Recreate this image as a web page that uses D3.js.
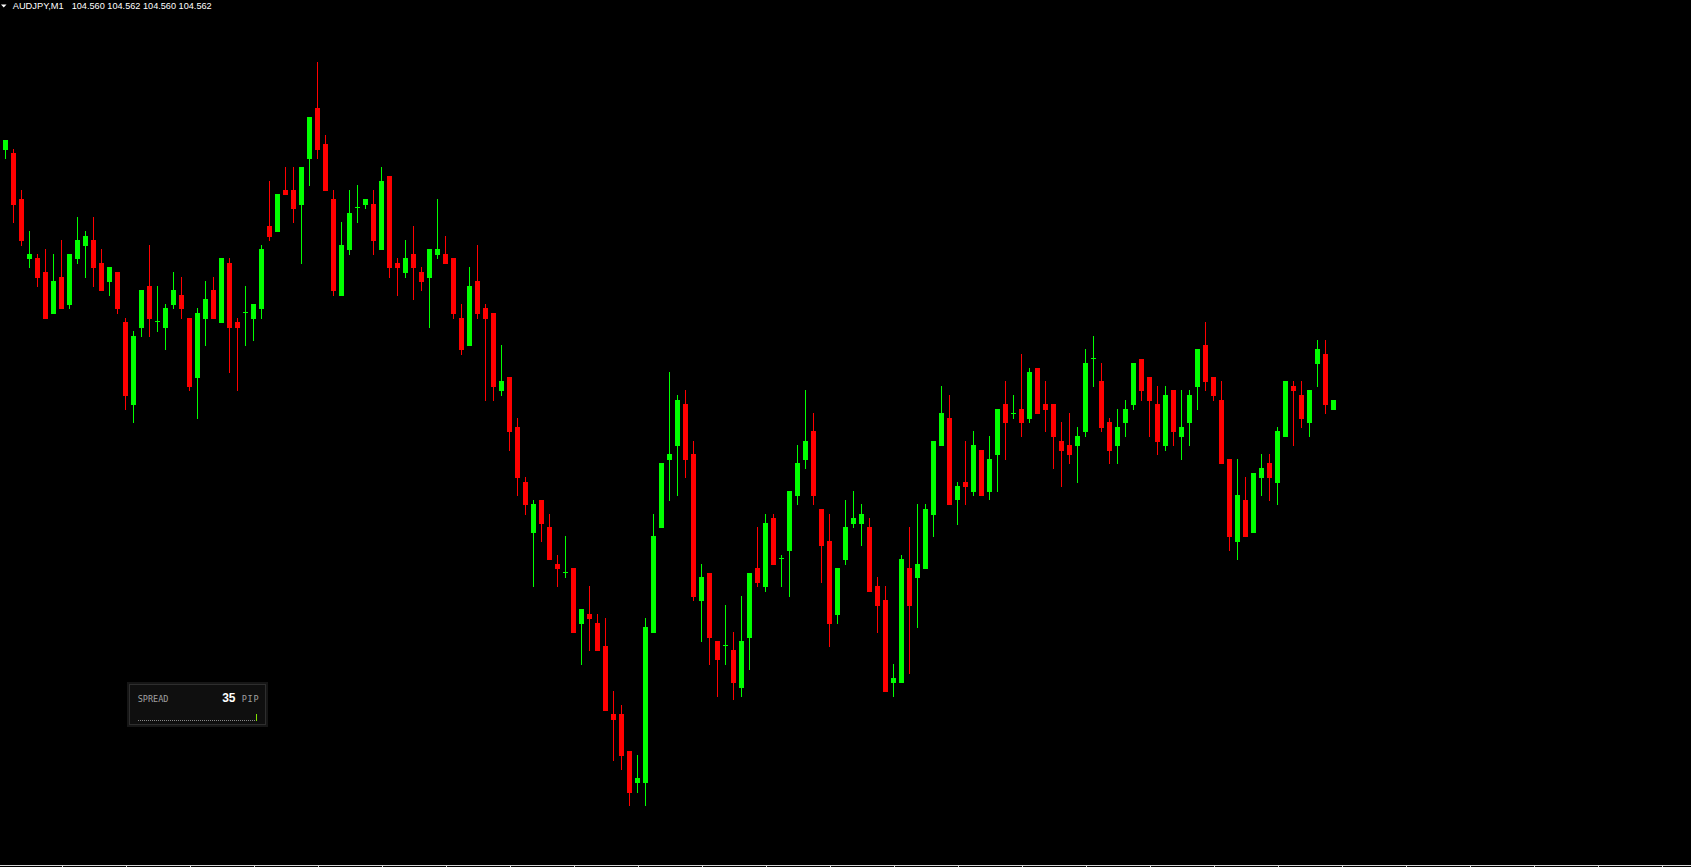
<!DOCTYPE html>
<html>
<head>
<meta charset="utf-8">
<script src="https://cdn.jsdelivr.net/npm/d3@7/dist/d3.min.js"></script>
<style>
  html, body { margin: 0; padding: 0; background: #000; overflow: hidden; }
  svg { display: block; }
</style>
</head>
<body>
<svg id="chart" width="1691" height="867"></svg>
<script>
// AUDJPY M1 candles (oldest -> newest)
const symbolLabel = 'AUDJPY,M1';
const lastQuote = '104.560 104.562 104.560 104.562';
const spreadValue = 35;

const opens = [
  104.812,104.809,104.763,104.703,104.704,104.690,104.648,104.685,104.657,104.703,
  104.716,104.722,104.699,104.680,104.690,104.640,104.557,104.634,104.676,104.640,
  104.634,104.657,104.667,104.644,104.584,104.643,104.672,104.639,104.699,104.640,
  104.649,104.643,104.653,104.736,104.730,104.772,104.772,104.757,104.803,104.854,
  104.818,104.763,104.666,104.712,104.754,104.757,104.758,104.712,104.786,104.699,
  104.689,104.708,104.690,104.684,104.707,104.708,104.704,104.644,104.616,104.681,
  104.654,104.649,104.571,104.585,104.535,104.480,104.429,104.462,104.435,104.398,
  104.389,104.394,104.338,104.348,104.339,104.316,104.248,104.248,104.211,104.179,
  104.179,104.329,104.434,104.502,104.516,104.558,104.508,104.361,104.389,104.321,
  104.316,104.312,104.274,104.324,104.394,104.375,104.444,104.403,104.411,104.466,
  104.502,104.531,104.453,104.421,104.347,104.402,104.438,104.438,104.435,104.376,
  104.362,104.279,104.279,104.394,104.384,104.393,104.447,104.516,104.544,104.462,
  104.480,104.470,104.512,104.470,104.507,104.558,104.548,104.553,104.543,104.594,
  104.558,104.558,104.521,104.517,104.516,104.530,104.603,104.581,104.540,104.516,
  104.539,104.557,104.603,104.585,104.558,104.516,104.572,104.525,104.539,104.575,
  104.617,104.585,104.562,104.503,104.420,104.462,104.429,104.484,104.499,104.479,
  104.525,104.576,104.567,104.539,104.598,104.608,104.552
];
const highs = [
  104.822,104.813,104.772,104.731,104.708,104.713,104.708,104.722,104.708,104.745,
  104.731,104.745,104.713,104.695,104.690,104.644,104.631,104.672,104.717,104.676,
  104.658,104.690,104.685,104.644,104.654,104.681,104.685,104.704,104.704,104.644,
  104.676,104.658,104.717,104.781,104.768,104.795,104.795,104.795,104.845,104.900,
  104.827,104.772,104.740,104.772,104.777,104.763,104.772,104.795,104.786,104.704,
  104.722,104.736,104.695,104.713,104.763,104.726,104.704,104.658,104.695,104.717,
  104.658,104.649,104.617,104.585,104.544,104.485,104.462,104.462,104.448,104.407,
  104.426,104.394,104.353,104.376,104.348,104.344,104.271,104.257,104.211,104.207,
  104.344,104.448,104.499,104.590,104.567,104.572,104.521,104.398,104.389,104.321,
  104.357,104.330,104.366,104.389,104.435,104.448,104.448,104.407,104.471,104.517,
  104.572,104.549,104.453,104.448,104.394,104.462,104.471,104.458,104.444,104.385,
  104.376,104.298,104.407,104.435,104.458,104.458,104.521,104.576,104.567,104.480,
  104.521,104.531,104.512,104.526,104.553,104.581,104.567,104.608,104.594,104.594,
  104.581,104.558,104.540,104.549,104.535,104.613,104.626,104.599,104.544,104.553,
  104.562,104.599,104.603,104.585,104.576,104.576,104.572,104.572,104.572,104.613,
  104.640,104.585,104.581,104.503,104.503,104.485,104.489,104.508,104.508,104.535,
  104.581,104.581,104.581,104.572,104.622,104.622,104.562
];
const lows = [
  104.803,104.739,104.716,104.694,104.675,104.643,104.648,104.653,104.653,104.698,
  104.684,104.675,104.671,104.666,104.648,104.552,104.539,104.625,104.625,104.630,
  104.612,104.653,104.643,104.571,104.543,104.616,104.643,104.639,104.589,104.571,
  104.616,104.621,104.643,104.721,104.730,104.767,104.739,104.698,104.776,104.803,
  104.771,104.666,104.666,104.707,104.739,104.753,104.707,104.712,104.684,104.666,
  104.684,104.662,104.671,104.634,104.703,104.698,104.643,104.607,104.616,104.643,
  104.561,104.561,104.566,104.511,104.466,104.447,104.375,104.420,104.402,104.375,
  104.384,104.329,104.297,104.311,104.311,104.251,104.201,104.192,104.156,104.169,
  104.156,104.329,104.434,104.461,104.466,104.484,104.361,104.320,104.297,104.265,
  104.297,104.262,104.265,104.292,104.375,104.370,104.397,104.375,104.365,104.457,
  104.493,104.457,104.379,104.315,104.338,104.397,104.434,104.416,104.370,104.329,
  104.270,104.265,104.279,104.288,104.334,104.393,104.425,104.516,104.457,104.437,
  104.457,104.466,104.466,104.462,104.470,104.502,104.543,104.525,104.539,104.548,
  104.530,104.493,104.475,104.498,104.479,104.525,104.575,104.530,104.498,104.498,
  104.525,104.552,104.561,104.525,104.507,104.511,104.516,104.502,104.516,104.552,
  104.571,104.561,104.498,104.411,104.402,104.425,104.429,104.466,104.461,104.457,
  104.525,104.516,104.534,104.525,104.575,104.548,104.552
];
const closes = [
  104.822,104.757,104.721,104.708,104.684,104.643,104.681,104.653,104.708,104.722,
  104.726,104.694,104.671,104.695,104.653,104.566,104.626,104.672,104.643,104.641,
  104.654,104.672,104.653,104.575,104.649,104.663,104.643,104.704,104.634,104.634,
  104.650,104.658,104.713,104.725,104.768,104.767,104.753,104.795,104.845,104.812,
  104.771,104.671,104.717,104.749,104.755,104.763,104.721,104.781,104.694,104.694,
  104.704,104.694,104.680,104.713,104.713,104.698,104.648,104.612,104.676,104.648,
  104.643,104.575,104.581,104.530,104.484,104.457,104.458,104.438,104.402,104.393,
  104.390,104.329,104.353,104.343,104.311,104.251,104.242,104.206,104.169,104.184,
  104.335,104.426,104.499,104.508,104.562,104.502,104.365,104.385,104.324,104.302,
  104.317,104.279,104.321,104.389,104.379,104.439,104.397,104.404,104.471,104.499,
  104.521,104.466,104.416,104.338,104.394,104.435,104.444,104.448,104.370,104.356,
  104.270,104.284,104.403,104.356,104.398,104.453,104.521,104.549,104.457,104.476,
  104.475,104.517,104.466,104.503,104.553,104.539,104.549,104.539,104.590,104.548,
  104.552,104.525,104.511,104.507,104.526,104.599,104.604,104.534,104.511,104.535,
  104.553,104.599,104.571,104.561,104.520,104.567,104.530,104.535,104.567,104.613,
  104.580,104.566,104.498,104.425,104.467,104.425,104.489,104.494,104.484,104.531,
  104.581,104.571,104.543,104.572,104.613,104.557,104.562
];

const W = 1691, H = 867;
const BULL = '#00ff00', BEAR = '#ff0000';

const bars = opens.map((o, i) => ({ i, o, h: highs[i], l: lows[i], c: closes[i] }));

const svg = d3.select('#chart').attr('shape-rendering', 'crispEdges');
svg.append('rect').attr('width', W).attr('height', H).attr('fill', '#000');

// 8 px per bar, first bar centred at 5.5
const x = d3.scaleLinear().domain([0, 1]).range([5.5, 13.5]);
const y = d3.scaleLinear().domain([104.095, 104.962]).range([H, 0]);

const colorOf = d => (d.c >= d.o ? BULL : BEAR);

// wicks
svg.append('g').selectAll('rect').data(bars).enter().append('rect')
  .attr('x', d => x(d.i) - 0.5)
  .attr('width', 1)
  .attr('y', d => Math.round(y(d.h)))
  .attr('height', d => Math.max(1, Math.round(y(d.l)) - Math.round(y(d.h))))
  .attr('fill', colorOf);

// bodies
svg.append('g').selectAll('rect').data(bars).enter().append('rect')
  .attr('x', d => x(d.i) - 2.5)
  .attr('width', 5)
  .attr('y', d => Math.round(y(Math.max(d.o, d.c))))
  .attr('height', d => Math.max(1, Math.round(y(Math.min(d.o, d.c))) - Math.round(y(Math.max(d.o, d.c)))))
  .attr('fill', colorOf);

// time axis frame at the bottom (labels are cut off in the screenshot)
const tickIdx = d3.range(7, 212, 8);
const axis = d3.axisBottom(x).tickValues(tickIdx).tickSize(3).tickFormat('');
const ax = svg.append('g').attr('transform', `translate(0,${H - 2.5})`).call(axis);
ax.select('.domain').attr('stroke', '#d8d8d8').attr('d', `M0,0.5H${W}`);
ax.selectAll('.tick line').attr('stroke', '#d8d8d8');

// header
svg.append('path').attr('d', 'M1,4.5L6.5,4.5L3.75,7.5Z').attr('fill', '#fff').attr('shape-rendering', 'auto');
svg.append('text').attr('x', 12.7).attr('y', 9)
  .attr('font-family', 'Liberation Sans, Arial, sans-serif').attr('font-size', 9.5)
  .attr('fill', '#fff').attr('textLength', 51).attr('lengthAdjust', 'spacingAndGlyphs')
  .text(symbolLabel);
svg.append('text').attr('x', 71.7).attr('y', 9)
  .attr('font-family', 'Liberation Sans, Arial, sans-serif').attr('font-size', 9.5)
  .attr('fill', '#fff').attr('textLength', 140).attr('lengthAdjust', 'spacingAndGlyphs')
  .text(lastQuote);

// spread panel
const sp = svg.append('g');
sp.append('rect').attr('x', 127).attr('y', 682).attr('width', 141).attr('height', 45).attr('fill', '#161616');
sp.append('rect').attr('x', 129.5).attr('y', 684.5).attr('width', 136).attr('height', 40)
  .attr('fill', '#0f0f0f').attr('stroke', '#2e2e2e');
sp.append('text').attr('x', 137.7).attr('y', 702).attr('font-family', 'DejaVu Sans Mono, monospace')
  .attr('font-size', 8.5).attr('fill', '#a0a0a0').text('SPREAD');
sp.append('text').attr('x', 235.5).attr('y', 701.5).attr('text-anchor', 'end')
  .attr('font-family', 'Liberation Sans, Arial, sans-serif').attr('font-size', 12)
  .attr('font-weight', 'bold').attr('fill', '#fff')
  .text(spreadValue);
sp.append('text').attr('x', 241.7).attr('y', 702).attr('font-family', 'DejaVu Sans Mono, monospace')
  .attr('font-size', 8.5).attr('fill', '#a0a0a0').attr('letter-spacing', 0.8).text('PIP');
sp.append('line').attr('x1', 137.7).attr('x2', 255).attr('y1', 720.5).attr('y2', 720.5)
  .attr('stroke', '#8a8a8a').attr('stroke-dasharray', '1,1');
sp.append('rect').attr('x', 256).attr('y', 714).attr('width', 1).attr('height', 7).attr('fill', '#80e000');
</script>
</body>
</html>
